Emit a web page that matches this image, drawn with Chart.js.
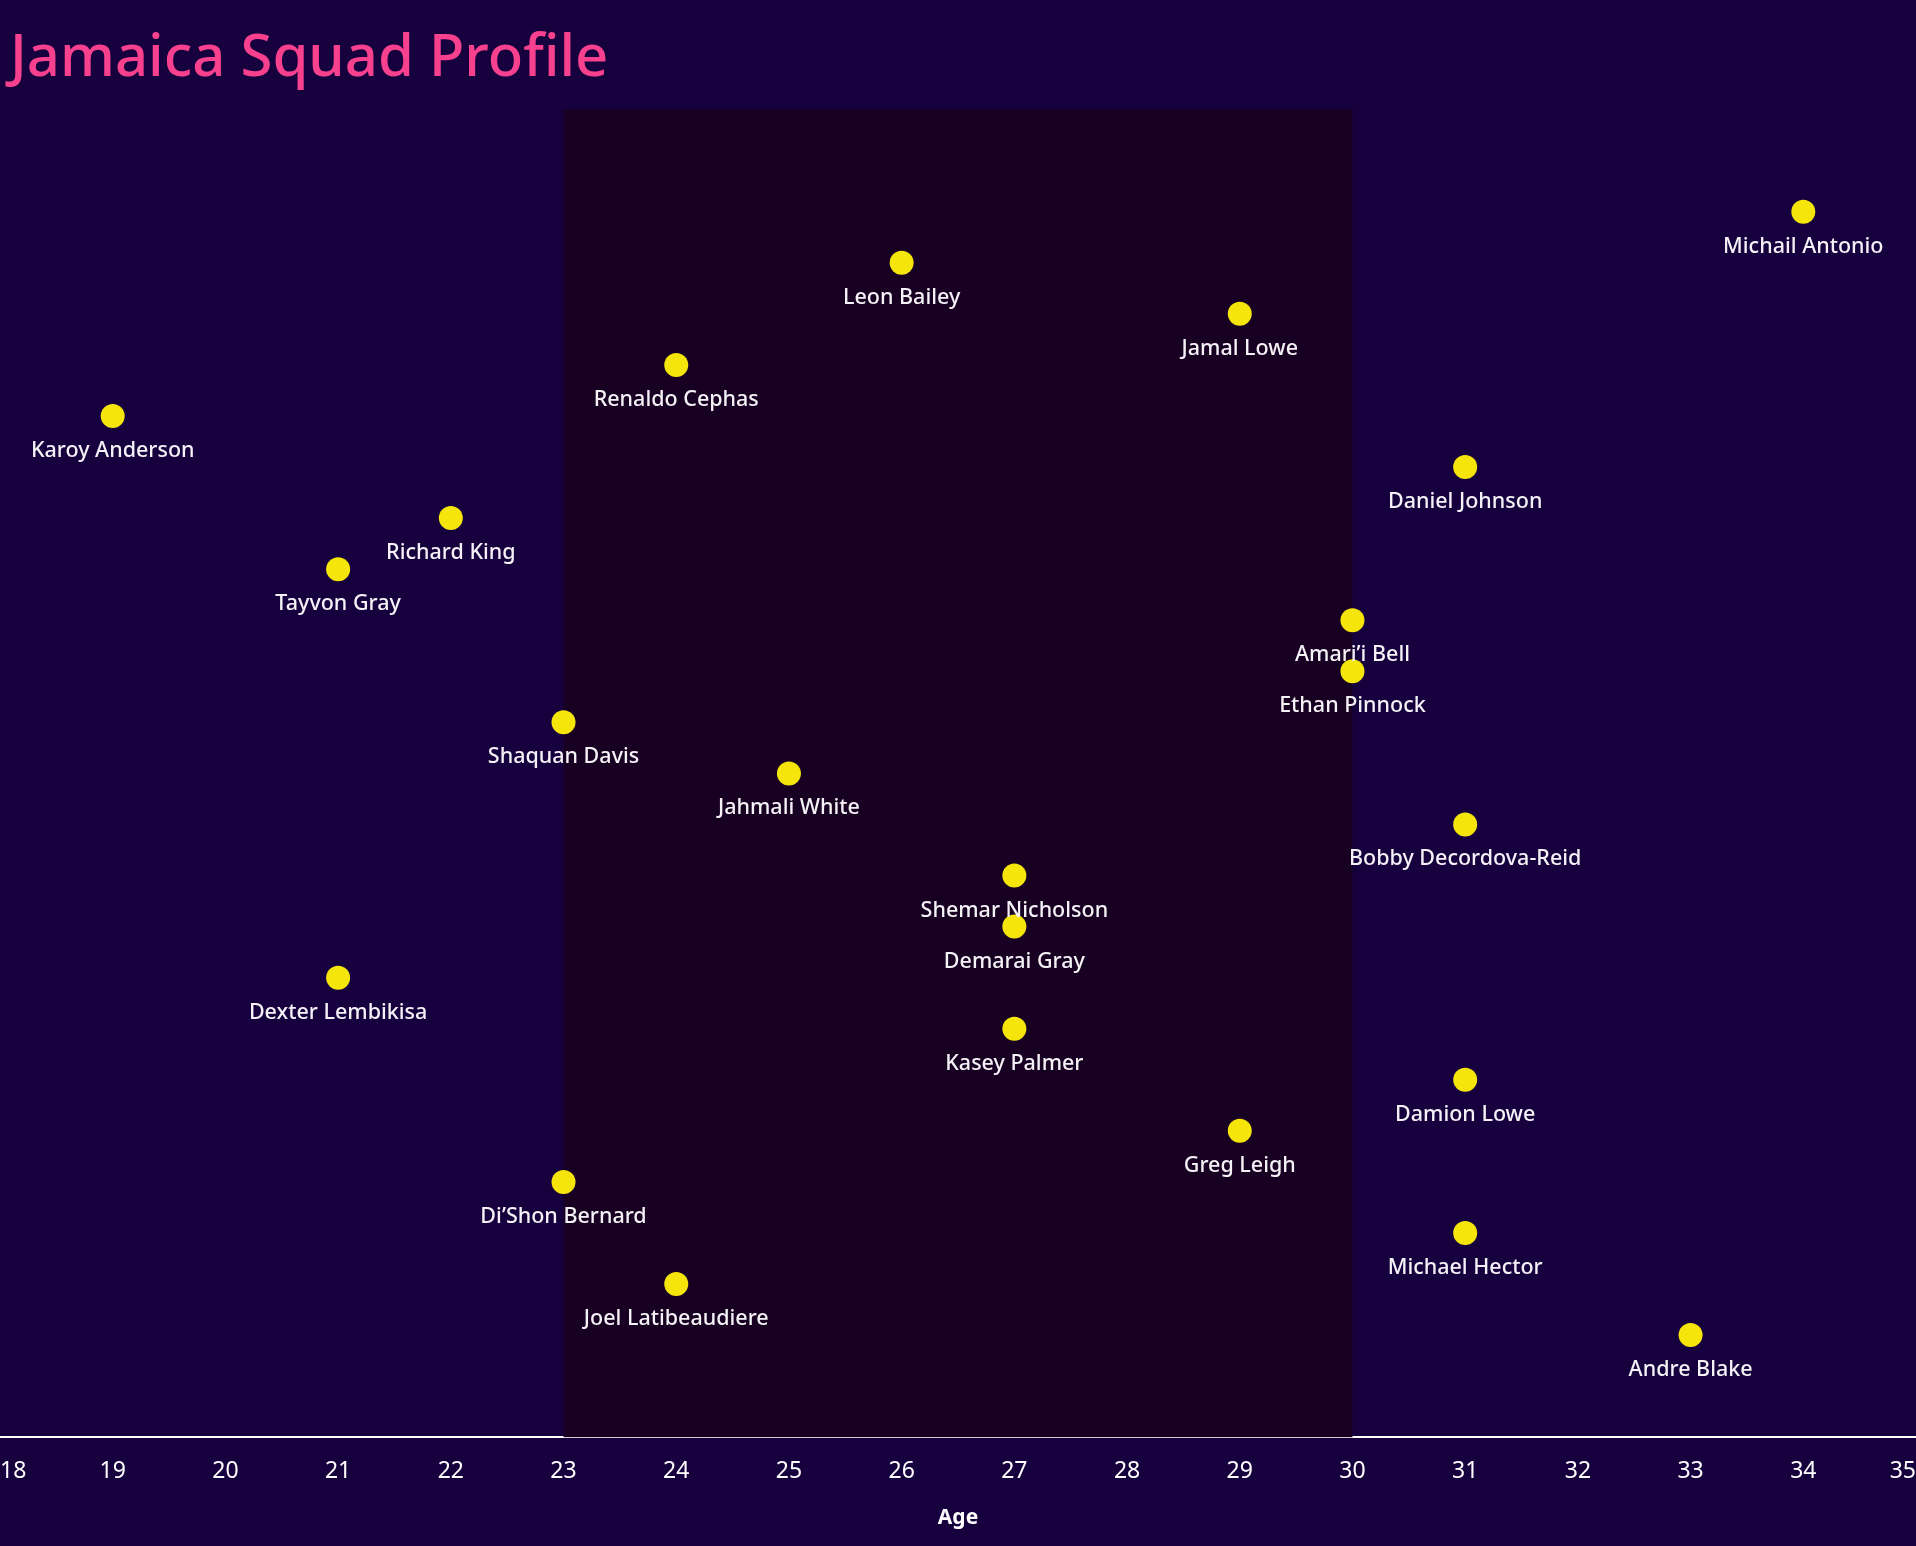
<!DOCTYPE html>
<html>
<head>
<meta charset="utf-8">
<script src="https://cdn.jsdelivr.net/npm/chart.js@4/dist/chart.umd.min.js"></script>
<style>
  html, body { margin: 0; padding: 0; background: #16003d; }
  #wrap { width: 1916px; height: 1546px; }
</style>
</head>
<body>
<div id="wrap"><canvas id="c" width="1916" height="1546"></canvas></div>
<script>
// ---- data ----
const players = ["Michail Antonio","Leon Bailey","Jamal Lowe","Renaldo Cephas","Karoy Anderson","Daniel Johnson","Richard King","Tayvon Gray","Amari’i Bell","Ethan Pinnock","Shaquan Davis","Jahmali White","Bobby Decordova-Reid","Shemar Nicholson","Demarai Gray","Dexter Lembikisa","Kasey Palmer","Damion Lowe","Greg Leigh","Di’Shon Bernard","Michael Hector","Joel Latibeaudiere","Andre Blake"];
const ages = [34,26,29,24,19,31,22,21,30,30,23,25,31,27,27,21,27,31,29,23,31,24,33];
const ranks = [1,2,3,4,5,6,7,8,9,10,11,12,13,14,15,16,17,18,19,20,21,22,23];
const bandAges = [23, 30];
const xTicks = [18,19,20,21,22,23,24,25,26,27,28,29,30,31,32,33,34,35];

const BG = '#16003d';
const BAND = '#180022';
const DOT = '#f5e50a';

const bgPlugin = {
  id: 'bg',
  afterLayout(chart) {
    if (chart.titleBlock) {
      chart.titleBlock.left = 10;
    }
  },
  beforeDraw(chart) {
    const ctx = chart.ctx;
    ctx.save();
    ctx.fillStyle = BG;
    ctx.fillRect(0, 0, chart.width, chart.height);
    ctx.restore();
  },
  beforeDatasetsDraw(chart) {
    const { ctx, chartArea, scales } = chart;
    const x0 = scales.x.getPixelForValue(bandAges[0]);
    const x1 = scales.x.getPixelForValue(bandAges[1]);
    ctx.save();
    ctx.fillStyle = BAND;
    ctx.fillRect(x0, chartArea.top, x1 - x0, chartArea.bottom - chartArea.top);
    ctx.restore();
  }
};

const labelPlugin = {
  id: 'names',
  afterDatasetsDraw(chart) {
    const ctx = chart.ctx;
    const meta = chart.getDatasetMeta(0);
    ctx.save();
    ctx.fillStyle = '#f4f2f6';
    ctx.font = '500 21.5px "Noto Sans"';
    ctx.textAlign = 'center';
    ctx.textBaseline = 'alphabetic';
    meta.data.forEach((pt, i) => {
      ctx.fillText(players[i], pt.x, pt.y + 41);
    });
    ctx.restore();
  }
};

new Chart(document.getElementById('c'), {
  type: 'scatter',
  data: {
    datasets: [{
      data: ages.map((a, i) => ({ x: a, y: ranks[i] })),
      backgroundColor: DOT,
      borderColor: DOT,
      borderWidth: 0,
      pointRadius: 12,
      pointHoverRadius: 12
    }]
  },
  options: {
    responsive: false,
    animation: false,
    layout: { padding: 0, autoPadding: false },
    plugins: {
      legend: { display: false },
      tooltip: { enabled: false },
      title: {
        display: true,
        text: 'Jamaica Squad Profile',
        align: 'start',
        color: '#f7408e',
        font: { family: '"Noto Sans"', size: 58, weight: '500', lineHeight: 1.2 },
        padding: { top: 25, bottom: 15 }
      }
    },
    scales: {
      x: {
        type: 'linear',
        min: 18,
        max: 35,
        afterBuildTicks(scale) { scale.ticks = xTicks.map(v => ({ value: v })); },
        afterFit(scale) { scale.paddingLeft = 0; scale.paddingRight = 0; },
        grid: { display: false, drawTicks: true, tickLength: 20 },
        border: { display: true, color: '#ffffff', width: 2 },
        ticks: {
          color: '#ffffff',
          align: 'inner',
          font: { family: '"Noto Sans"', size: 23 },
          padding: 0,
          maxRotation: 0,
          autoSkip: false
        },
        title: {
          display: true,
          text: 'Age',
          color: '#ffffff',
          font: { family: '"Noto Sans"', size: 21, weight: 'bold' },
          padding: { top: 21, bottom: 15 }
        }
      },
      y: {
        type: 'linear',
        display: false,
        reverse: true,
        min: -1,
        max: 25
      }
    }
  },
  plugins: [bgPlugin, labelPlugin]
});
</script>
</body>
</html>
